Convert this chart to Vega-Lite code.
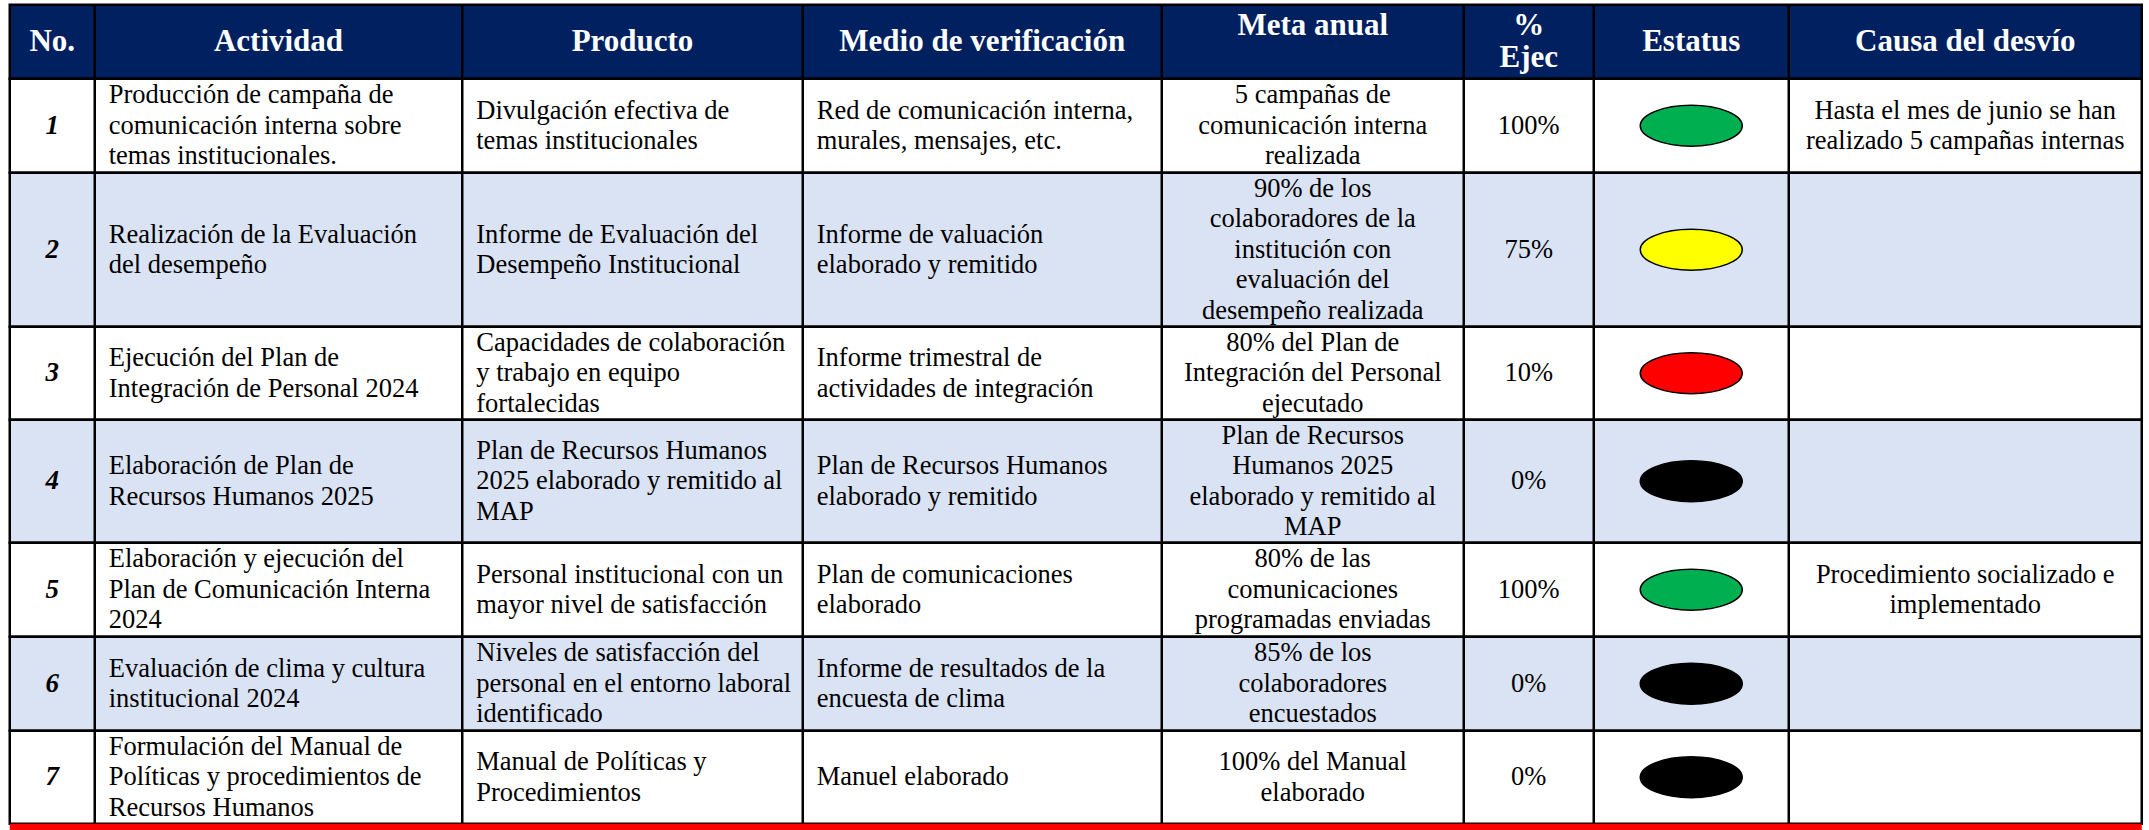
{
"$schema": "https://vega.github.io/schema/vega-lite/v6.json",
"background": "white",
"bounds": "flush",
"padding": {"left": 7.75, "top": 1.75, "right": 6.75, "bottom": 0},
"spacing": 0,
"config": {"view": {"stroke": null}, "concat": {"spacing": 0}},
"datasets": {
"celdas": [
{"no":0,"col":1,"texto":"No."},
{"no":0,"col":2,"texto":"Actividad"},
{"no":0,"col":3,"texto":"Producto"},
{"no":0,"col":4,"texto":"Medio de verificación"},
{"no":0,"col":5,"texto":["Meta anual",""]},
{"no":0,"col":6,"texto":["%","Ejec"]},
{"no":0,"col":7,"texto":"Estatus"},
{"no":0,"col":8,"texto":"Causa del desvío"},
{"no":1,"col":1,"texto":"1"},
{"no":1,"col":2,"texto":["Producción de campaña de","comunicación interna sobre","temas institucionales."]},
{"no":1,"col":3,"texto":["Divulgación efectiva de","temas institucionales"]},
{"no":1,"col":4,"texto":["Red de comunicación interna,","murales, mensajes, etc."]},
{"no":1,"col":5,"texto":["5 campañas de","comunicación interna","realizada"]},
{"no":1,"col":6,"texto":"100%"},
{"no":1,"col":7,"estatus":"Cumplida"},
{"no":1,"col":8,"texto":["Hasta el mes de junio se han","realizado 5 campañas internas"]},
{"no":2,"col":1,"texto":"2"},
{"no":2,"col":2,"texto":["Realización de la Evaluación","del desempeño"]},
{"no":2,"col":3,"texto":["Informe de Evaluación del","Desempeño Institucional"]},
{"no":2,"col":4,"texto":["Informe de valuación","elaborado y remitido"]},
{"no":2,"col":5,"texto":["90% de los","colaboradores de la","institución con","evaluación del","desempeño realizada"]},
{"no":2,"col":6,"texto":"75%"},
{"no":2,"col":7,"estatus":"En proceso"},
{"no":2,"col":8,"texto":""},
{"no":3,"col":1,"texto":"3"},
{"no":3,"col":2,"texto":["Ejecución del Plan de","Integración de Personal 2024"]},
{"no":3,"col":3,"texto":["Capacidades de colaboración","y trabajo en equipo","fortalecidas"]},
{"no":3,"col":4,"texto":["Informe trimestral de","actividades de integración"]},
{"no":3,"col":5,"texto":["80% del Plan de","Integración del Personal","ejecutado"]},
{"no":3,"col":6,"texto":"10%"},
{"no":3,"col":7,"estatus":"Atrasada"},
{"no":3,"col":8,"texto":""},
{"no":4,"col":1,"texto":"4"},
{"no":4,"col":2,"texto":["Elaboración de Plan de","Recursos Humanos 2025"]},
{"no":4,"col":3,"texto":["Plan de Recursos Humanos","2025 elaborado y remitido al","MAP"]},
{"no":4,"col":4,"texto":["Plan de Recursos Humanos","elaborado y remitido"]},
{"no":4,"col":5,"texto":["Plan de Recursos","Humanos 2025","elaborado y remitido al","MAP"]},
{"no":4,"col":6,"texto":"0%"},
{"no":4,"col":7,"estatus":"No iniciada"},
{"no":4,"col":8,"texto":""},
{"no":5,"col":1,"texto":"5"},
{"no":5,"col":2,"texto":["Elaboración y ejecución del","Plan de Comunicación Interna","2024"]},
{"no":5,"col":3,"texto":["Personal institucional con un","mayor nivel de satisfacción"]},
{"no":5,"col":4,"texto":["Plan de comunicaciones","elaborado"]},
{"no":5,"col":5,"texto":["80% de las","comunicaciones","programadas enviadas"]},
{"no":5,"col":6,"texto":"100%"},
{"no":5,"col":7,"estatus":"Cumplida"},
{"no":5,"col":8,"texto":["Procedimiento socializado e","implementado"]},
{"no":6,"col":1,"texto":"6"},
{"no":6,"col":2,"texto":["Evaluación de clima y cultura","institucional 2024"]},
{"no":6,"col":3,"texto":["Niveles de satisfacción del","personal en el entorno laboral","identificado"]},
{"no":6,"col":4,"texto":["Informe de resultados de la","encuesta de clima"]},
{"no":6,"col":5,"texto":["85% de los","colaboradores","encuestados"]},
{"no":6,"col":6,"texto":"0%"},
{"no":6,"col":7,"estatus":"No iniciada"},
{"no":6,"col":8,"texto":""},
{"no":7,"col":1,"texto":"7"},
{"no":7,"col":2,"texto":["Formulación del Manual de","Políticas y procedimientos de","Recursos Humanos"]},
{"no":7,"col":3,"texto":["Manual de Políticas y","Procedimientos"]},
{"no":7,"col":4,"texto":"Manuel elaborado"},
{"no":7,"col":5,"texto":["100% del Manual","elaborado"]},
{"no":7,"col":6,"texto":"0%"},
{"no":7,"col":7,"estatus":"No iniciada"},
{"no":7,"col":8,"texto":""}
]
},
"data": {"name": "celdas"},
"vconcat": [
{"height":74,"width":2132,"view":{"fill":"#002060","stroke":"black","strokeWidth":2.5},
 "transform":[{"filter":"datum.no == 0"}],
 "resolve":{"scale":{"x":"independent"}},
 "layer":[
  {"transform":[{"filter":"datum.col > 1"}],"mark":{"type":"rule","stroke":"black","strokeWidth":2.5},"encoding":{"x":{"field":"col","type":"quantitative","axis":null,"scale":{"domain":[1,2,3,4,5,6,7,8],"range":[0,85,452.5,793,1152,1454,1584,1779],"nice":false,"zero":false}}}},
  {"mark":{"type":"text","font":"Liberation Serif","fontSize":31,"fontWeight":"bold","lineHeight":32,"baseline":"middle","align":"center","color":"white","dy":{"expr":"isArray(datum.texto) ? -(length(datum.texto)-1)*16 : 0"}},"encoding":{"x":{"field":"col","type":"quantitative","axis":null,"scale":{"domain":[1,2,3,4,5,6,7,8],"range":[42.5,268.75,622.75,972.5,1303,1519,1681.5,1955.5],"nice":false,"zero":false}},"text":{"field":"texto","type":"nominal"}}}
 ]},
{"height":94,"width":2132,"view":{"fill":"white","stroke":"black","strokeWidth":2.5},
 "transform":[{"filter":"datum.no == 1"}],
 "resolve":{"scale":{"x":"independent"}},
 "layer":[
  {"transform":[{"filter":"datum.col > 1"}],"mark":{"type":"rule","stroke":"black","strokeWidth":2.5},"encoding":{"x":{"field":"col","type":"quantitative","axis":null,"scale":{"domain":[1,2,3,4,5,6,7,8],"range":[0,85,452.5,793,1152,1454,1584,1779],"nice":false,"zero":false}}}},
  {"transform":[{"filter":"datum.col == 1"}],"mark":{"type":"text","font":"Liberation Serif","fontSize":27,"fontWeight":"bold","fontStyle":"italic","baseline":"middle","align":"center","color":"black"},"encoding":{"x":{"field":"col","type":"quantitative","axis":null,"scale":{"domain":[1,2,3,4,5,6,7,8],"range":[42.5,268.75,622.75,972.5,1303,1519,1681.5,1955.5],"nice":false,"zero":false}},"text":{"field":"texto","type":"nominal"}}},
  {"transform":[{"filter":"datum.col >= 2 && datum.col <= 4"}],"mark":{"type":"text","font":"Liberation Serif","fontSize":26.5,"lineHeight":30.5,"baseline":"middle","align":"left","dx":14,"color":"black","dy":{"expr":"isArray(datum.texto) ? -(length(datum.texto)-1)*15.25 : 0"}},"encoding":{"x":{"field":"col","type":"quantitative","axis":null,"scale":{"domain":[1,2,3,4,5,6,7,8],"range":[0,85,452.5,793,1152,1454,1584,1779],"nice":false,"zero":false}},"text":{"field":"texto","type":"nominal"}}},
  {"transform":[{"filter":"datum.col == 5 || datum.col == 6 || datum.col == 8"}],"mark":{"type":"text","font":"Liberation Serif","fontSize":26.5,"lineHeight":30.5,"baseline":"middle","align":"center","color":"black","dy":{"expr":"isArray(datum.texto) ? -(length(datum.texto)-1)*15.25 : 0"}},"encoding":{"x":{"field":"col","type":"quantitative","axis":null,"scale":{"domain":[1,2,3,4,5,6,7,8],"range":[42.5,268.75,622.75,972.5,1303,1519,1681.5,1955.5],"nice":false,"zero":false}},"text":{"field":"texto","type":"nominal"}}},
  {"transform":[{"filter":"datum.col == 7"}],"mark":{"type":"point","shape":"M -1 0 A 1 0.4 0 1 0 1 0 A 1 0.4 0 1 0 -1 0 Z","size":10404,"filled":true,"opacity":1,"stroke":"black","strokeWidth":1.5},"encoding":{"x":{"field":"col","type":"quantitative","axis":null,"scale":{"domain":[1,2,3,4,5,6,7,8],"range":[42.5,268.75,622.75,972.5,1303,1519,1681.5,1955.5],"nice":false,"zero":false}},"fill":{"field":"estatus","type":"nominal","legend":null,"scale":{"domain":["Cumplida","En proceso","Atrasada","No iniciada"],"range":["#00B050","#FFFF00","#FF0000","#000000"]}}}}
 ]},
{"height":154,"width":2132,"view":{"fill":"#DAE3F3","stroke":"black","strokeWidth":2.5},
 "transform":[{"filter":"datum.no == 2"}],
 "resolve":{"scale":{"x":"independent"}},
 "layer":[
  {"transform":[{"filter":"datum.col > 1"}],"mark":{"type":"rule","stroke":"black","strokeWidth":2.5},"encoding":{"x":{"field":"col","type":"quantitative","axis":null,"scale":{"domain":[1,2,3,4,5,6,7,8],"range":[0,85,452.5,793,1152,1454,1584,1779],"nice":false,"zero":false}}}},
  {"transform":[{"filter":"datum.col == 1"}],"mark":{"type":"text","font":"Liberation Serif","fontSize":27,"fontWeight":"bold","fontStyle":"italic","baseline":"middle","align":"center","color":"black"},"encoding":{"x":{"field":"col","type":"quantitative","axis":null,"scale":{"domain":[1,2,3,4,5,6,7,8],"range":[42.5,268.75,622.75,972.5,1303,1519,1681.5,1955.5],"nice":false,"zero":false}},"text":{"field":"texto","type":"nominal"}}},
  {"transform":[{"filter":"datum.col >= 2 && datum.col <= 4"}],"mark":{"type":"text","font":"Liberation Serif","fontSize":26.5,"lineHeight":30.5,"baseline":"middle","align":"left","dx":14,"color":"black","dy":{"expr":"isArray(datum.texto) ? -(length(datum.texto)-1)*15.25 : 0"}},"encoding":{"x":{"field":"col","type":"quantitative","axis":null,"scale":{"domain":[1,2,3,4,5,6,7,8],"range":[0,85,452.5,793,1152,1454,1584,1779],"nice":false,"zero":false}},"text":{"field":"texto","type":"nominal"}}},
  {"transform":[{"filter":"datum.col == 5 || datum.col == 6 || datum.col == 8"}],"mark":{"type":"text","font":"Liberation Serif","fontSize":26.5,"lineHeight":30.5,"baseline":"middle","align":"center","color":"black","dy":{"expr":"isArray(datum.texto) ? -(length(datum.texto)-1)*15.25 : 0"}},"encoding":{"x":{"field":"col","type":"quantitative","axis":null,"scale":{"domain":[1,2,3,4,5,6,7,8],"range":[42.5,268.75,622.75,972.5,1303,1519,1681.5,1955.5],"nice":false,"zero":false}},"text":{"field":"texto","type":"nominal"}}},
  {"transform":[{"filter":"datum.col == 7"}],"mark":{"type":"point","shape":"M -1 0 A 1 0.4 0 1 0 1 0 A 1 0.4 0 1 0 -1 0 Z","size":10404,"filled":true,"opacity":1,"stroke":"black","strokeWidth":1.5},"encoding":{"x":{"field":"col","type":"quantitative","axis":null,"scale":{"domain":[1,2,3,4,5,6,7,8],"range":[42.5,268.75,622.75,972.5,1303,1519,1681.5,1955.5],"nice":false,"zero":false}},"fill":{"field":"estatus","type":"nominal","legend":null,"scale":{"domain":["Cumplida","En proceso","Atrasada","No iniciada"],"range":["#00B050","#FFFF00","#FF0000","#000000"]}}}}
 ]},
{"height":93,"width":2132,"view":{"fill":"white","stroke":"black","strokeWidth":2.5},
 "transform":[{"filter":"datum.no == 3"}],
 "resolve":{"scale":{"x":"independent"}},
 "layer":[
  {"transform":[{"filter":"datum.col > 1"}],"mark":{"type":"rule","stroke":"black","strokeWidth":2.5},"encoding":{"x":{"field":"col","type":"quantitative","axis":null,"scale":{"domain":[1,2,3,4,5,6,7,8],"range":[0,85,452.5,793,1152,1454,1584,1779],"nice":false,"zero":false}}}},
  {"transform":[{"filter":"datum.col == 1"}],"mark":{"type":"text","font":"Liberation Serif","fontSize":27,"fontWeight":"bold","fontStyle":"italic","baseline":"middle","align":"center","color":"black"},"encoding":{"x":{"field":"col","type":"quantitative","axis":null,"scale":{"domain":[1,2,3,4,5,6,7,8],"range":[42.5,268.75,622.75,972.5,1303,1519,1681.5,1955.5],"nice":false,"zero":false}},"text":{"field":"texto","type":"nominal"}}},
  {"transform":[{"filter":"datum.col >= 2 && datum.col <= 4"}],"mark":{"type":"text","font":"Liberation Serif","fontSize":26.5,"lineHeight":30.5,"baseline":"middle","align":"left","dx":14,"color":"black","dy":{"expr":"isArray(datum.texto) ? -(length(datum.texto)-1)*15.25 : 0"}},"encoding":{"x":{"field":"col","type":"quantitative","axis":null,"scale":{"domain":[1,2,3,4,5,6,7,8],"range":[0,85,452.5,793,1152,1454,1584,1779],"nice":false,"zero":false}},"text":{"field":"texto","type":"nominal"}}},
  {"transform":[{"filter":"datum.col == 5 || datum.col == 6 || datum.col == 8"}],"mark":{"type":"text","font":"Liberation Serif","fontSize":26.5,"lineHeight":30.5,"baseline":"middle","align":"center","color":"black","dy":{"expr":"isArray(datum.texto) ? -(length(datum.texto)-1)*15.25 : 0"}},"encoding":{"x":{"field":"col","type":"quantitative","axis":null,"scale":{"domain":[1,2,3,4,5,6,7,8],"range":[42.5,268.75,622.75,972.5,1303,1519,1681.5,1955.5],"nice":false,"zero":false}},"text":{"field":"texto","type":"nominal"}}},
  {"transform":[{"filter":"datum.col == 7"}],"mark":{"type":"point","shape":"M -1 0 A 1 0.4 0 1 0 1 0 A 1 0.4 0 1 0 -1 0 Z","size":10404,"filled":true,"opacity":1,"stroke":"black","strokeWidth":1.5},"encoding":{"x":{"field":"col","type":"quantitative","axis":null,"scale":{"domain":[1,2,3,4,5,6,7,8],"range":[42.5,268.75,622.75,972.5,1303,1519,1681.5,1955.5],"nice":false,"zero":false}},"fill":{"field":"estatus","type":"nominal","legend":null,"scale":{"domain":["Cumplida","En proceso","Atrasada","No iniciada"],"range":["#00B050","#FFFF00","#FF0000","#000000"]}}}}
 ]},
{"height":123,"width":2132,"view":{"fill":"#DAE3F3","stroke":"black","strokeWidth":2.5},
 "transform":[{"filter":"datum.no == 4"}],
 "resolve":{"scale":{"x":"independent"}},
 "layer":[
  {"transform":[{"filter":"datum.col > 1"}],"mark":{"type":"rule","stroke":"black","strokeWidth":2.5},"encoding":{"x":{"field":"col","type":"quantitative","axis":null,"scale":{"domain":[1,2,3,4,5,6,7,8],"range":[0,85,452.5,793,1152,1454,1584,1779],"nice":false,"zero":false}}}},
  {"transform":[{"filter":"datum.col == 1"}],"mark":{"type":"text","font":"Liberation Serif","fontSize":27,"fontWeight":"bold","fontStyle":"italic","baseline":"middle","align":"center","color":"black"},"encoding":{"x":{"field":"col","type":"quantitative","axis":null,"scale":{"domain":[1,2,3,4,5,6,7,8],"range":[42.5,268.75,622.75,972.5,1303,1519,1681.5,1955.5],"nice":false,"zero":false}},"text":{"field":"texto","type":"nominal"}}},
  {"transform":[{"filter":"datum.col >= 2 && datum.col <= 4"}],"mark":{"type":"text","font":"Liberation Serif","fontSize":26.5,"lineHeight":30.5,"baseline":"middle","align":"left","dx":14,"color":"black","dy":{"expr":"isArray(datum.texto) ? -(length(datum.texto)-1)*15.25 : 0"}},"encoding":{"x":{"field":"col","type":"quantitative","axis":null,"scale":{"domain":[1,2,3,4,5,6,7,8],"range":[0,85,452.5,793,1152,1454,1584,1779],"nice":false,"zero":false}},"text":{"field":"texto","type":"nominal"}}},
  {"transform":[{"filter":"datum.col == 5 || datum.col == 6 || datum.col == 8"}],"mark":{"type":"text","font":"Liberation Serif","fontSize":26.5,"lineHeight":30.5,"baseline":"middle","align":"center","color":"black","dy":{"expr":"isArray(datum.texto) ? -(length(datum.texto)-1)*15.25 : 0"}},"encoding":{"x":{"field":"col","type":"quantitative","axis":null,"scale":{"domain":[1,2,3,4,5,6,7,8],"range":[42.5,268.75,622.75,972.5,1303,1519,1681.5,1955.5],"nice":false,"zero":false}},"text":{"field":"texto","type":"nominal"}}},
  {"transform":[{"filter":"datum.col == 7"}],"mark":{"type":"point","shape":"M -1 0 A 1 0.4 0 1 0 1 0 A 1 0.4 0 1 0 -1 0 Z","size":10404,"filled":true,"opacity":1,"stroke":"black","strokeWidth":1.5},"encoding":{"x":{"field":"col","type":"quantitative","axis":null,"scale":{"domain":[1,2,3,4,5,6,7,8],"range":[42.5,268.75,622.75,972.5,1303,1519,1681.5,1955.5],"nice":false,"zero":false}},"fill":{"field":"estatus","type":"nominal","legend":null,"scale":{"domain":["Cumplida","En proceso","Atrasada","No iniciada"],"range":["#00B050","#FFFF00","#FF0000","#000000"]}}}}
 ]},
{"height":94,"width":2132,"view":{"fill":"white","stroke":"black","strokeWidth":2.5},
 "transform":[{"filter":"datum.no == 5"}],
 "resolve":{"scale":{"x":"independent"}},
 "layer":[
  {"transform":[{"filter":"datum.col > 1"}],"mark":{"type":"rule","stroke":"black","strokeWidth":2.5},"encoding":{"x":{"field":"col","type":"quantitative","axis":null,"scale":{"domain":[1,2,3,4,5,6,7,8],"range":[0,85,452.5,793,1152,1454,1584,1779],"nice":false,"zero":false}}}},
  {"transform":[{"filter":"datum.col == 1"}],"mark":{"type":"text","font":"Liberation Serif","fontSize":27,"fontWeight":"bold","fontStyle":"italic","baseline":"middle","align":"center","color":"black"},"encoding":{"x":{"field":"col","type":"quantitative","axis":null,"scale":{"domain":[1,2,3,4,5,6,7,8],"range":[42.5,268.75,622.75,972.5,1303,1519,1681.5,1955.5],"nice":false,"zero":false}},"text":{"field":"texto","type":"nominal"}}},
  {"transform":[{"filter":"datum.col >= 2 && datum.col <= 4"}],"mark":{"type":"text","font":"Liberation Serif","fontSize":26.5,"lineHeight":30.5,"baseline":"middle","align":"left","dx":14,"color":"black","dy":{"expr":"isArray(datum.texto) ? -(length(datum.texto)-1)*15.25 : 0"}},"encoding":{"x":{"field":"col","type":"quantitative","axis":null,"scale":{"domain":[1,2,3,4,5,6,7,8],"range":[0,85,452.5,793,1152,1454,1584,1779],"nice":false,"zero":false}},"text":{"field":"texto","type":"nominal"}}},
  {"transform":[{"filter":"datum.col == 5 || datum.col == 6 || datum.col == 8"}],"mark":{"type":"text","font":"Liberation Serif","fontSize":26.5,"lineHeight":30.5,"baseline":"middle","align":"center","color":"black","dy":{"expr":"isArray(datum.texto) ? -(length(datum.texto)-1)*15.25 : 0"}},"encoding":{"x":{"field":"col","type":"quantitative","axis":null,"scale":{"domain":[1,2,3,4,5,6,7,8],"range":[42.5,268.75,622.75,972.5,1303,1519,1681.5,1955.5],"nice":false,"zero":false}},"text":{"field":"texto","type":"nominal"}}},
  {"transform":[{"filter":"datum.col == 7"}],"mark":{"type":"point","shape":"M -1 0 A 1 0.4 0 1 0 1 0 A 1 0.4 0 1 0 -1 0 Z","size":10404,"filled":true,"opacity":1,"stroke":"black","strokeWidth":1.5},"encoding":{"x":{"field":"col","type":"quantitative","axis":null,"scale":{"domain":[1,2,3,4,5,6,7,8],"range":[42.5,268.75,622.75,972.5,1303,1519,1681.5,1955.5],"nice":false,"zero":false}},"fill":{"field":"estatus","type":"nominal","legend":null,"scale":{"domain":["Cumplida","En proceso","Atrasada","No iniciada"],"range":["#00B050","#FFFF00","#FF0000","#000000"]}}}}
 ]},
{"height":94,"width":2132,"view":{"fill":"#DAE3F3","stroke":"black","strokeWidth":2.5},
 "transform":[{"filter":"datum.no == 6"}],
 "resolve":{"scale":{"x":"independent"}},
 "layer":[
  {"transform":[{"filter":"datum.col > 1"}],"mark":{"type":"rule","stroke":"black","strokeWidth":2.5},"encoding":{"x":{"field":"col","type":"quantitative","axis":null,"scale":{"domain":[1,2,3,4,5,6,7,8],"range":[0,85,452.5,793,1152,1454,1584,1779],"nice":false,"zero":false}}}},
  {"transform":[{"filter":"datum.col == 1"}],"mark":{"type":"text","font":"Liberation Serif","fontSize":27,"fontWeight":"bold","fontStyle":"italic","baseline":"middle","align":"center","color":"black"},"encoding":{"x":{"field":"col","type":"quantitative","axis":null,"scale":{"domain":[1,2,3,4,5,6,7,8],"range":[42.5,268.75,622.75,972.5,1303,1519,1681.5,1955.5],"nice":false,"zero":false}},"text":{"field":"texto","type":"nominal"}}},
  {"transform":[{"filter":"datum.col >= 2 && datum.col <= 4"}],"mark":{"type":"text","font":"Liberation Serif","fontSize":26.5,"lineHeight":30.5,"baseline":"middle","align":"left","dx":14,"color":"black","dy":{"expr":"isArray(datum.texto) ? -(length(datum.texto)-1)*15.25 : 0"}},"encoding":{"x":{"field":"col","type":"quantitative","axis":null,"scale":{"domain":[1,2,3,4,5,6,7,8],"range":[0,85,452.5,793,1152,1454,1584,1779],"nice":false,"zero":false}},"text":{"field":"texto","type":"nominal"}}},
  {"transform":[{"filter":"datum.col == 5 || datum.col == 6 || datum.col == 8"}],"mark":{"type":"text","font":"Liberation Serif","fontSize":26.5,"lineHeight":30.5,"baseline":"middle","align":"center","color":"black","dy":{"expr":"isArray(datum.texto) ? -(length(datum.texto)-1)*15.25 : 0"}},"encoding":{"x":{"field":"col","type":"quantitative","axis":null,"scale":{"domain":[1,2,3,4,5,6,7,8],"range":[42.5,268.75,622.75,972.5,1303,1519,1681.5,1955.5],"nice":false,"zero":false}},"text":{"field":"texto","type":"nominal"}}},
  {"transform":[{"filter":"datum.col == 7"}],"mark":{"type":"point","shape":"M -1 0 A 1 0.4 0 1 0 1 0 A 1 0.4 0 1 0 -1 0 Z","size":10404,"filled":true,"opacity":1,"stroke":"black","strokeWidth":1.5},"encoding":{"x":{"field":"col","type":"quantitative","axis":null,"scale":{"domain":[1,2,3,4,5,6,7,8],"range":[42.5,268.75,622.75,972.5,1303,1519,1681.5,1955.5],"nice":false,"zero":false}},"fill":{"field":"estatus","type":"nominal","legend":null,"scale":{"domain":["Cumplida","En proceso","Atrasada","No iniciada"],"range":["#00B050","#FFFF00","#FF0000","#000000"]}}}}
 ]},
{"height":93,"width":2132,"view":{"fill":"white","stroke":"black","strokeWidth":2.5},
 "transform":[{"filter":"datum.no == 7"}],
 "resolve":{"scale":{"x":"independent"}},
 "layer":[
  {"transform":[{"filter":"datum.col > 1"}],"mark":{"type":"rule","stroke":"black","strokeWidth":2.5},"encoding":{"x":{"field":"col","type":"quantitative","axis":null,"scale":{"domain":[1,2,3,4,5,6,7,8],"range":[0,85,452.5,793,1152,1454,1584,1779],"nice":false,"zero":false}}}},
  {"transform":[{"filter":"datum.col == 1"}],"mark":{"type":"text","font":"Liberation Serif","fontSize":27,"fontWeight":"bold","fontStyle":"italic","baseline":"middle","align":"center","color":"black"},"encoding":{"x":{"field":"col","type":"quantitative","axis":null,"scale":{"domain":[1,2,3,4,5,6,7,8],"range":[42.5,268.75,622.75,972.5,1303,1519,1681.5,1955.5],"nice":false,"zero":false}},"text":{"field":"texto","type":"nominal"}}},
  {"transform":[{"filter":"datum.col >= 2 && datum.col <= 4"}],"mark":{"type":"text","font":"Liberation Serif","fontSize":26.5,"lineHeight":30.5,"baseline":"middle","align":"left","dx":14,"color":"black","dy":{"expr":"isArray(datum.texto) ? -(length(datum.texto)-1)*15.25 : 0"}},"encoding":{"x":{"field":"col","type":"quantitative","axis":null,"scale":{"domain":[1,2,3,4,5,6,7,8],"range":[0,85,452.5,793,1152,1454,1584,1779],"nice":false,"zero":false}},"text":{"field":"texto","type":"nominal"}}},
  {"transform":[{"filter":"datum.col == 5 || datum.col == 6 || datum.col == 8"}],"mark":{"type":"text","font":"Liberation Serif","fontSize":26.5,"lineHeight":30.5,"baseline":"middle","align":"center","color":"black","dy":{"expr":"isArray(datum.texto) ? -(length(datum.texto)-1)*15.25 : 0"}},"encoding":{"x":{"field":"col","type":"quantitative","axis":null,"scale":{"domain":[1,2,3,4,5,6,7,8],"range":[42.5,268.75,622.75,972.5,1303,1519,1681.5,1955.5],"nice":false,"zero":false}},"text":{"field":"texto","type":"nominal"}}},
  {"transform":[{"filter":"datum.col == 7"}],"mark":{"type":"point","shape":"M -1 0 A 1 0.4 0 1 0 1 0 A 1 0.4 0 1 0 -1 0 Z","size":10404,"filled":true,"opacity":1,"stroke":"black","strokeWidth":1.5},"encoding":{"x":{"field":"col","type":"quantitative","axis":null,"scale":{"domain":[1,2,3,4,5,6,7,8],"range":[42.5,268.75,622.75,972.5,1303,1519,1681.5,1955.5],"nice":false,"zero":false}},"fill":{"field":"estatus","type":"nominal","legend":null,"scale":{"domain":["Cumplida","En proceso","Atrasada","No iniciada"],"range":["#00B050","#FFFF00","#FF0000","#000000"]}}}}
 ]},
{"height":8,"width":2132,"view":{"fill":"#FF0000","stroke":null},
 "data":{"values":[{}]},
 "mark":{"type":"rule","opacity":0},
 "encoding":{}}
]
}
